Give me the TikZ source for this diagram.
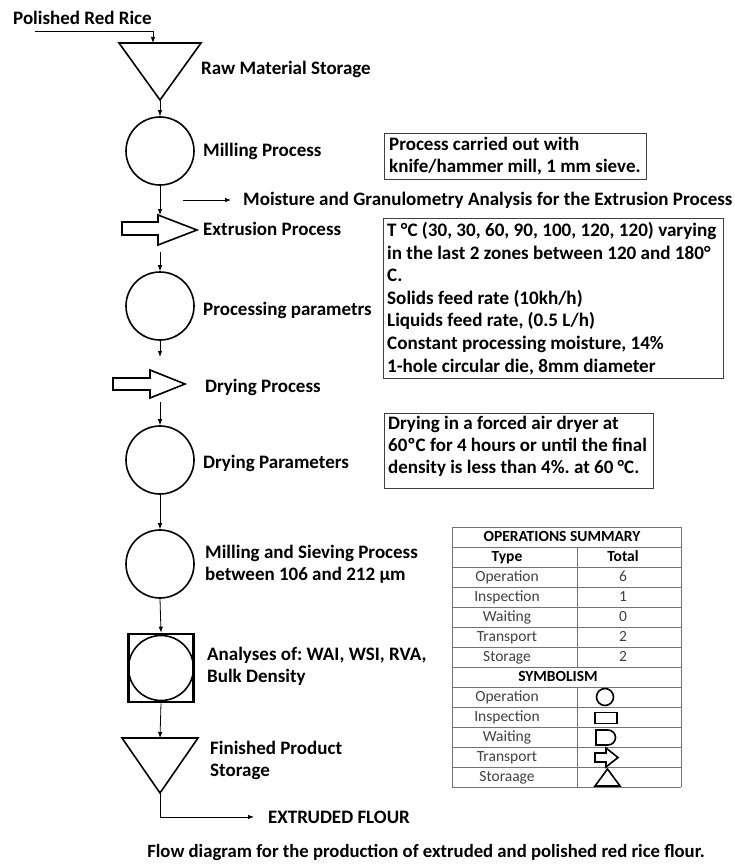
\documentclass[tikz,border=0pt]{standalone}
\usepackage{fontspec}
\setmainfont{Carlito}
\usetikzlibrary{arrows.meta}
\newcommand{\lblfont}{\fontsize{19}{22}\selectfont\bfseries}
\newcommand{\tblfont}{\fontsize{15.5}{18}\selectfont}
\frenchspacing
\begin{document}
\frenchspacing
\begin{tikzpicture}[x=1pt,y=-1pt,
  conn/.style={line width=0.8pt,-{Latex[length=6pt,width=4.5pt]}},
  shp/.style={line width=1.6pt,line join=miter},
  opc/.style={circle,draw,line width=1.6pt,minimum size=68pt,inner sep=0pt},
  lbl/.style={anchor=west,inner sep=0pt,font=\lblfont,align=left},
  infobox/.style={draw=black!75,line width=1.1pt,anchor=north west,inner sep=0pt},
  tcell/.style={font=\tblfont,text=black!75,inner sep=0pt,text height=12pt,text depth=2.5pt},
  thead/.style={font=\tblfont\bfseries,text=black,inner sep=0pt,text height=12pt,text depth=2.5pt},
  tline/.style={draw=black!55,line width=0.9pt},
  sym/.style={line width=1.6pt,line join=miter}
]
\useasboundingbox (0,0) rectangle (735,867);

% input
\node[lbl] (prr) at (13,18) {Polished Red Rice};
\coordinate (inA) at (35,31);
\coordinate (t1in) at (153,43);
\draw[conn] (inA) -| (t1in);

% raw material storage
\coordinate (t1a) at (119,43);
\coordinate (t1b) at (201,43);
\coordinate (t1c) at (160,100);
\draw[shp] (t1a) -- (t1b) -- (t1c) -- cycle;
\node[lbl] (l1) at (201,69) {Raw Material Storage};

% milling
\node[opc] (c1) at (160,151) {};
\draw[conn] (t1c) -- (c1.north);
\node[lbl] (l2) at (203,151) {Milling Process};
\node[infobox,minimum width=262pt,minimum height=46pt] (b1) at (384,133) {};
\node[lbl] (b1t) at ([xshift=5pt]b1.west) {Process carried out with\\knife/hammer mill, 1 mm sieve.};

% moisture analysis
\coordinate (mA) at (183,200);
\node[lbl] (mtxt) at (243,200) {Moisture and Granulometry Analysis for the Extrusion Process};
\draw[conn] (mA) -- ([xshift=-12pt]mtxt.west);

% extrusion
\coordinate (e1n) at (160,215);
\coordinate (e1s) at (160,252);
\draw[shp] (122,222) -- (158,222) -- (158,215) -- (197,230) -- (158,245) -- (158,235) -- (122,235) -- cycle;
\draw[conn] (c1.south) -- (e1n);
\node[lbl] (l3) at (203,229) {Extrusion Process};
\node[infobox,minimum width=340pt,minimum height=160pt] (b2) at (383,218) {};
\node[lbl,font=\fontsize{19.1}{22.6}\selectfont\bfseries] (b2t) at ([xshift=4pt]b2.west) {T °C (30, 30, 60, 90, 100, 120, 120) varying\\in the last 2 zones between 120 and 180°\\C.\\Solids feed rate (10kh/h)\\Liquids feed rate, (0.5 L/h)\\Constant processing moisture, 14\%\\1-hole circular die, 8mm diameter};

% processing parameters
\node[opc] (c2) at (160,306) {};
\draw[conn] (e1s) -- (c2.north);
\node[lbl] (l4) at (203,310) {Processing parametrs};

% drying
\coordinate (d1n) at (160,357);
\coordinate (d1s) at (160,402);
\draw[conn] (c2.south) -- (d1n);
\draw[shp] (113,378) -- (150,378) -- (150,370) -- (185,384) -- (150,398) -- (150,390) -- (113,390) -- cycle;
\node[lbl] (l5) at (205,387) {Drying Process};

% drying parameters
\node[opc] (c3) at (160,460) {};
\draw[conn] (d1s) -- (c3.north);
\node[lbl] (l6) at (203,463) {Drying Parameters};
\node[infobox,minimum width=269pt,minimum height=75pt] (b3) at (384,413) {};
\node[lbl] (b3t) at ([xshift=4pt,yshift=5pt]b3.west) {Drying in a forced air dryer at\\60ºC for 4 hours or until the final\\density is less than 4\%. at 60 °C.};

% milling and sieving
\node[opc] (c4) at (160,564) {};
\draw[conn] (c3.south) -- (c4.north);
\node[lbl] (l7) at (205,564) {Milling and Sieving Process\\between 106 and 212 µm};

% analyses
\node[draw,line width=2.6pt,minimum width=65pt,minimum height=68pt,inner sep=0pt] (sq) at (161,668) {};
\node[opc,minimum size=65pt] (c5) at (sq.center) {};
\draw[conn] (c4.south) -- (sq.north);
\node[lbl] (l8) at (207,666) {Analyses of: WAI, WSI, RVA,\\Bulk Density};

% finished product storage
\coordinate (t2a) at (122,738);
\coordinate (t2b) at (198,738);
\coordinate (t2c) at (160,793);
\coordinate (t2top) at (160,738);
\draw[shp] (t2a) -- (t2b) -- (t2c) -- cycle;
\draw[conn] (sq.south) -- (t2top);
\node[lbl] (l9) at (210,760) {Finished Product\\Storage};

% output
\node[lbl] (ef) at (268,817) {EXTRUDED FLOUR};
\draw[conn] (t2c) |- ([xshift=-14pt]ef.west);

% caption
\node[lbl,anchor=center,font=\fontsize{18.7}{22}\selectfont\bfseries] (cap) at (426,852) {Flow diagram for the production of extruded and polished red rice flour.};

% table
\foreach \k in {0,...,13} \draw[tline] (452,{527+20*\k}) -- (681,{527+20*\k});
\draw[tline] (452,527) -- (452,787);
\draw[tline] (681,527) -- (681,787);
\draw[tline] (577,547) -- (577,667);
\draw[tline] (577,687) -- (577,787);
\node[thead] (th0) at (562,537) {OPERATIONS SUMMARY};
\node[thead] (th1a) at (507,557) {Type};
\node[thead] (th1b) at (623,557) {Total};
\foreach \k/\t/\n in {2/Operation/6,3/Inspection/1,4/Waiting/0,5/Transport/2,6/Storage/2}{
  \node[tcell] (ta\k) at (507,{537+20*\k}) {\t};
  \node[tcell] (tb\k) at (623,{537+20*\k}) {\n};
}
\node[thead] (th7) at (558,677) {SYMBOLISM};
\foreach \k/\t in {8/Operation,9/Inspection,10/Waiting,11/Transport,12/Storaage}{
  \node[tcell] (ts\k) at (507,{537+20*\k}) {\t};
}
\node[circle,draw,line width=1.6pt,minimum size=17pt,inner sep=0pt] (sOp) at (605,697) {};
\node[draw,line width=1.6pt,minimum width=22pt,minimum height=11pt,inner sep=0pt] (sIn) at (606,718) {};
\draw[sym] (596,745) -- (596,730) -- (608,730) arc[start angle=-90,end angle=90,radius=7.5] -- cycle;
\draw[sym] (595,753) -- (606,753) -- (606,748) -- (618,757.5) -- (606,767) -- (606,762) -- (595,762) -- cycle;
\draw[sym] (595,786) -- (620,786) -- (607.5,769) -- cycle;
\end{tikzpicture}
\end{document}
